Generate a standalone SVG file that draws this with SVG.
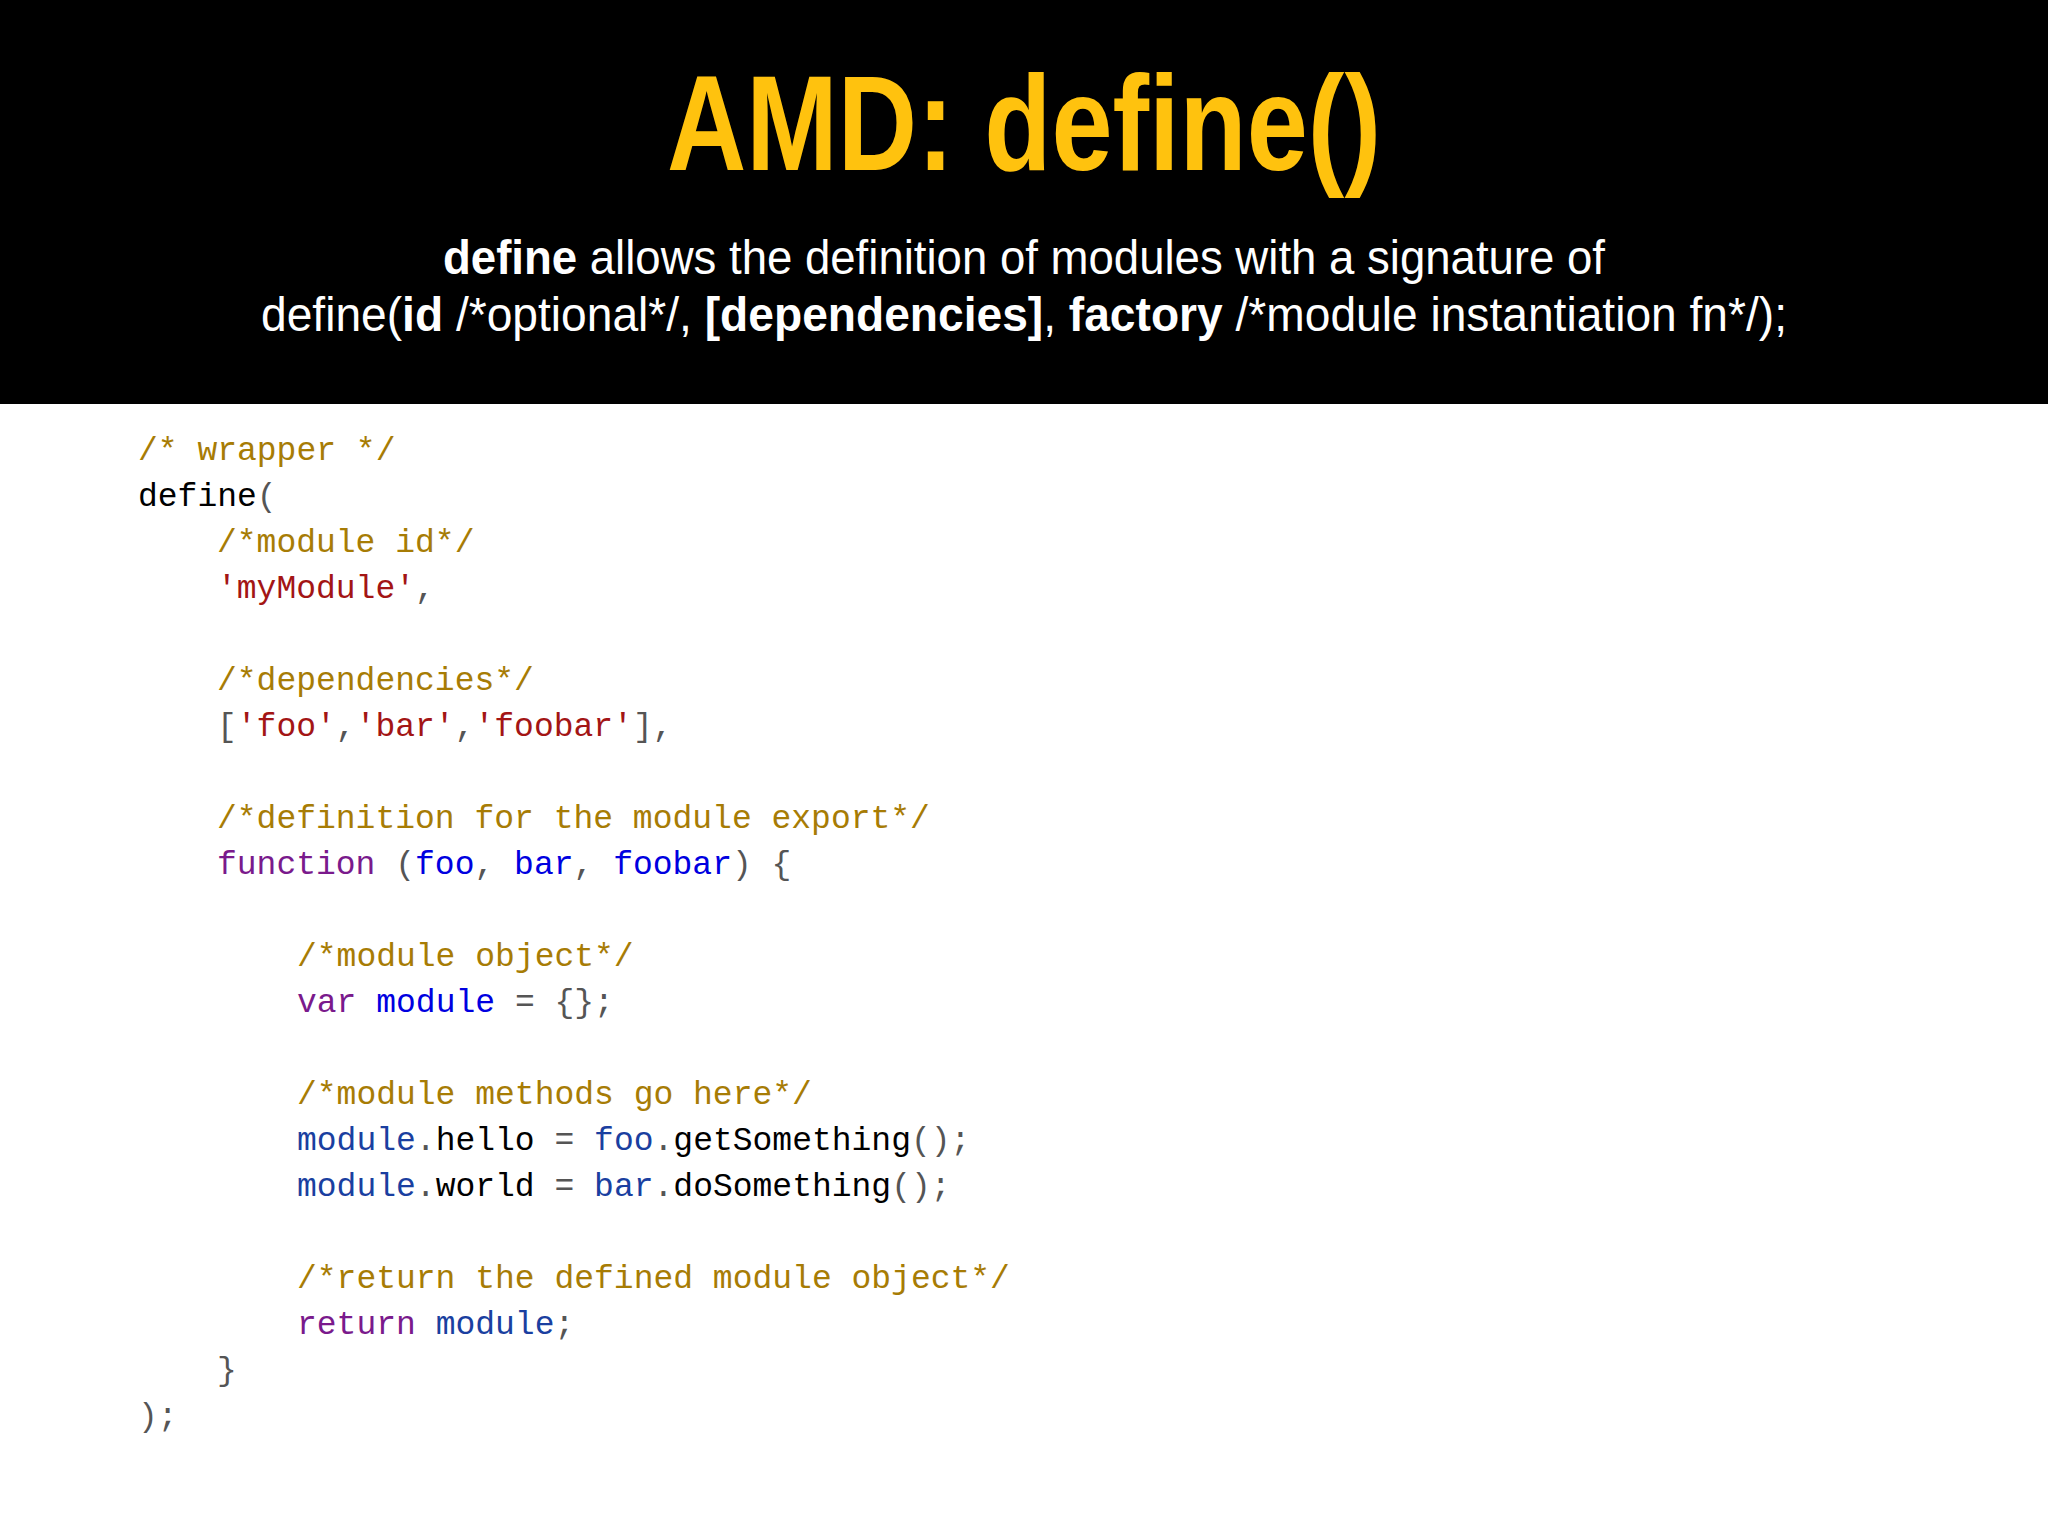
<svg xmlns="http://www.w3.org/2000/svg" width="2048" height="1536" viewBox="0 0 2048 1536">
<style>
.t{font-family:"Liberation Sans",Arial,sans-serif}
.c{font-family:"Liberation Mono","DejaVu Sans Mono",monospace;font-size:33px;fill:#000;white-space:pre}
.cm{fill:#a77c05}.s{fill:#a31515}.k{fill:#7a1a8c}.p{fill:#0000e0}.m{fill:#1a3fa0}.g{fill:#555}
</style>
<rect width="2048" height="1536" fill="#fff"/>
<rect width="2048" height="404" fill="#000"/>
<g id="title"><text class="t" x="1024" y="170" text-anchor="middle" font-size="136" font-weight="bold" fill="#ffc20e" textLength="714" lengthAdjust="spacingAndGlyphs">AMD: define()</text></g>
<g id="subtitle" class="t" fill="#fff" font-size="48">
<text x="1024" y="274" text-anchor="middle" textLength="1162" lengthAdjust="spacingAndGlyphs"><tspan font-weight="bold">define</tspan> allows the definition of modules with a signature of</text>
<text x="1024" y="331" text-anchor="middle" textLength="1526" lengthAdjust="spacingAndGlyphs">define(<tspan font-weight="bold">id</tspan> /*optional*/, <tspan font-weight="bold">[dependencies]</tspan>, <tspan font-weight="bold">factory</tspan> /*module instantiation fn*/);</text>
</g>
<g id="code" class="c" xml:space="preserve">
<text x="138" y="460" class="cm">/* wrapper */</text>
<text x="138" y="506">define<tspan class="g">(</tspan></text>
<text x="217" y="552" class="cm">/*module id*/</text>
<text x="217" y="598"><tspan class="s">'myModule'</tspan><tspan class="g">,</tspan></text>
<text x="217" y="690" class="cm">/*dependencies*/</text>
<text x="217" y="736"><tspan class="g">[</tspan><tspan class="s">'foo'</tspan><tspan class="g">,</tspan><tspan class="s">'bar'</tspan><tspan class="g">,</tspan><tspan class="s">'foobar'</tspan><tspan class="g">],</tspan></text>
<text x="217" y="828" class="cm">/*definition for the module export*/</text>
<text x="217" y="874"><tspan class="k">function</tspan> <tspan class="g">(</tspan><tspan class="p">foo</tspan><tspan class="g">,</tspan> <tspan class="p">bar</tspan><tspan class="g">,</tspan> <tspan class="p">foobar</tspan><tspan class="g">) {</tspan></text>
<text x="297" y="966" class="cm">/*module object*/</text>
<text x="297" y="1012"><tspan class="k">var</tspan> <tspan class="p">module</tspan> <tspan class="g">= {};</tspan></text>
<text x="297" y="1104" class="cm">/*module methods go here*/</text>
<text x="297" y="1150"><tspan class="m">module</tspan><tspan class="g">.</tspan>hello <tspan class="g">=</tspan> <tspan class="m">foo</tspan><tspan class="g">.</tspan>getSomething<tspan class="g">();</tspan></text>
<text x="297" y="1196"><tspan class="m">module</tspan><tspan class="g">.</tspan>world <tspan class="g">=</tspan> <tspan class="m">bar</tspan><tspan class="g">.</tspan>doSomething<tspan class="g">();</tspan></text>
<text x="297" y="1288" class="cm">/*return the defined module object*/</text>
<text x="297" y="1334"><tspan class="k">return</tspan> <tspan class="m">module</tspan><tspan class="g">;</tspan></text>
<text x="217" y="1380" class="g">}</text>
<text x="138" y="1426" class="g">);</text>
</g>
</svg>
